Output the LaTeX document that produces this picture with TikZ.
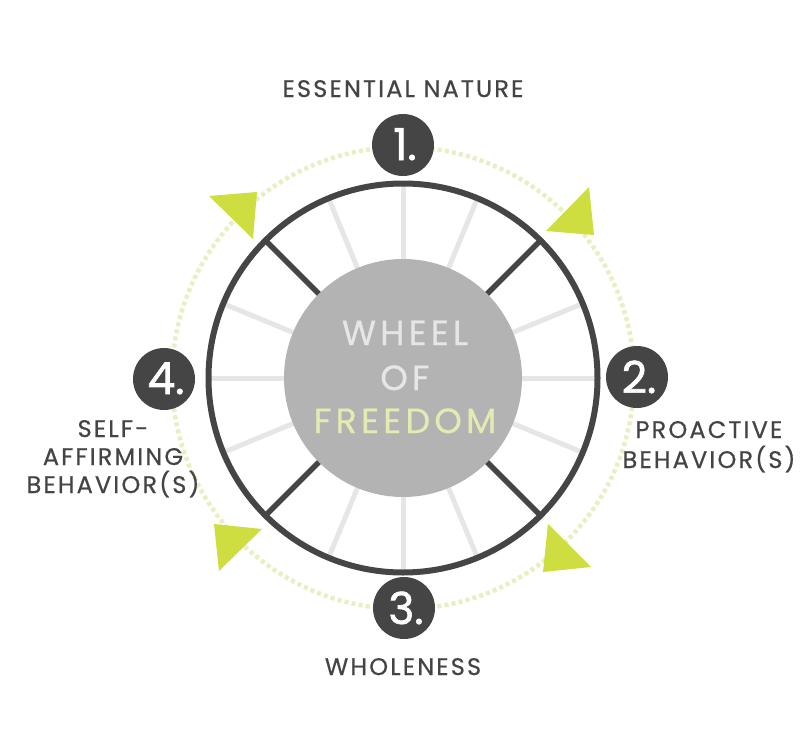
\documentclass[tikz,border=0pt]{standalone}
\usepackage{fontspec}
\setmainfont{Poppins}
\newfontfamily\lblfont{Poppins}[LetterSpace=9, FakeBold=0.6]
\newfontfamily\hubfont{Poppins}[LetterSpace=12, FakeBold=0.6]
\newfontfamily\numfont{Poppins}[FakeBold=1.5]
\definecolor{darkg}{HTML}{454545}
\definecolor{labelg}{HTML}{444444}
\definecolor{hubg}{HTML}{B3B3B3}
\definecolor{spokeg}{HTML}{E6E6E6}
\definecolor{dotg}{HTML}{E8EFC2}
\definecolor{arrowg}{HTML}{CEDD40}
\definecolor{freeg}{HTML}{E4EAB2}
\tikzset{
  ringdots/.style={draw=dotg, line width=4.5pt, dash pattern=on 4pt off 3.2pt},
  lightspoke/.style={draw=spokeg, line width=5pt},
  darkspoke/.style={draw=darkg, line width=5.5pt},
  rim/.style={draw=darkg, line width=6pt},
  numbox/.style={circle, fill=darkg, minimum size=62pt, inner sep=0pt},
  numtxt/.style={anchor=base, inner sep=0pt, text=white, font=\numfont\fontsize{44}{44}\selectfont},
  hubtxt/.style={anchor=base, inner sep=0pt, font=\hubfont\fontsize{35}{35}\selectfont},
  lbl/.style={text=labelg, inner sep=0pt, font=\lblfont\fontsize{24}{28}\selectfont},
  arrowtri/.style={fill=arrowg, draw=none}
}
\begin{document}
\begin{tikzpicture}[x=1pt,y=-1pt]
\useasboundingbox (0,0) rectangle (800,752);
\coordinate (c) at (403,378);
% dotted ring
\draw[ringdots] (c) circle[radius=231pt];
% triangles
\fill[arrowtri] (589,187) -- (594,235) -- (546,231) -- cycle;
\fill[arrowtri] (209,196) -- (257,192) -- (253,239) -- cycle;
\fill[arrowtri] (548,524) -- (543,572) -- (591,567) -- cycle;
\fill[arrowtri] (214,524) -- (262,529) -- (219,571) -- cycle;
% spokes
\foreach \a in {0,22.5,67.5,90,112.5,157.5,180,202.5,247.5,270,292.5,337.5}
  \draw[lightspoke] ([shift={(\a:110pt)}]c) -- ([shift={(\a:195pt)}]c);
\foreach \a in {45,135,225,315}
  \draw[darkspoke] ([shift={(\a:110pt)}]c) -- ([shift={(\a:195pt)}]c);
% hub
\fill[hubg] (c) circle[radius=119pt];
% rim
\draw[rim] (c) circle[radius=194.5pt];
% hub text
\node[hubtxt, text=spokeg] (w1) at (405,345) {WHEEL};
\node[hubtxt, text=spokeg] (w2) at (405,390) {OF};
\node[hubtxt, text=freeg] (w3) at (405,433) {FREEDOM};
% number badges
\node[numbox] (n1) at (403,145) {};
\node[numbox] (n2) at (637,377) {};
\node[numbox] (n3) at (404,608) {};
\node[numbox] (n4) at (164,379) {};
\node[numtxt] (t1) at (405,160) {1.};
\node[numtxt] (t2) at (639,393) {2.};
\node[numtxt] (t3) at (406,624) {3.};
\node[numtxt] (t4) at (166,394) {4.};
% labels
\node[lbl, anchor=base] (l1) at (403,97) {ESSENTIAL NATURE};
\node[lbl, anchor=base] (l2a) at (709,438) {PROACTIVE};
\node[lbl, anchor=base] (l2b) at (709,468) {BEHAVIOR(S)};
\node[lbl, anchor=base] (l3) at (403,675) {WHOLENESS};
\node[lbl, anchor=base] (l4a) at (113,437) {SELF-};
\node[lbl, anchor=base] (l4b) at (113,465) {AFFIRMING};
\node[lbl, anchor=base] (l4c) at (113,493) {BEHAVIOR(S)};
\end{tikzpicture}
\end{document}
